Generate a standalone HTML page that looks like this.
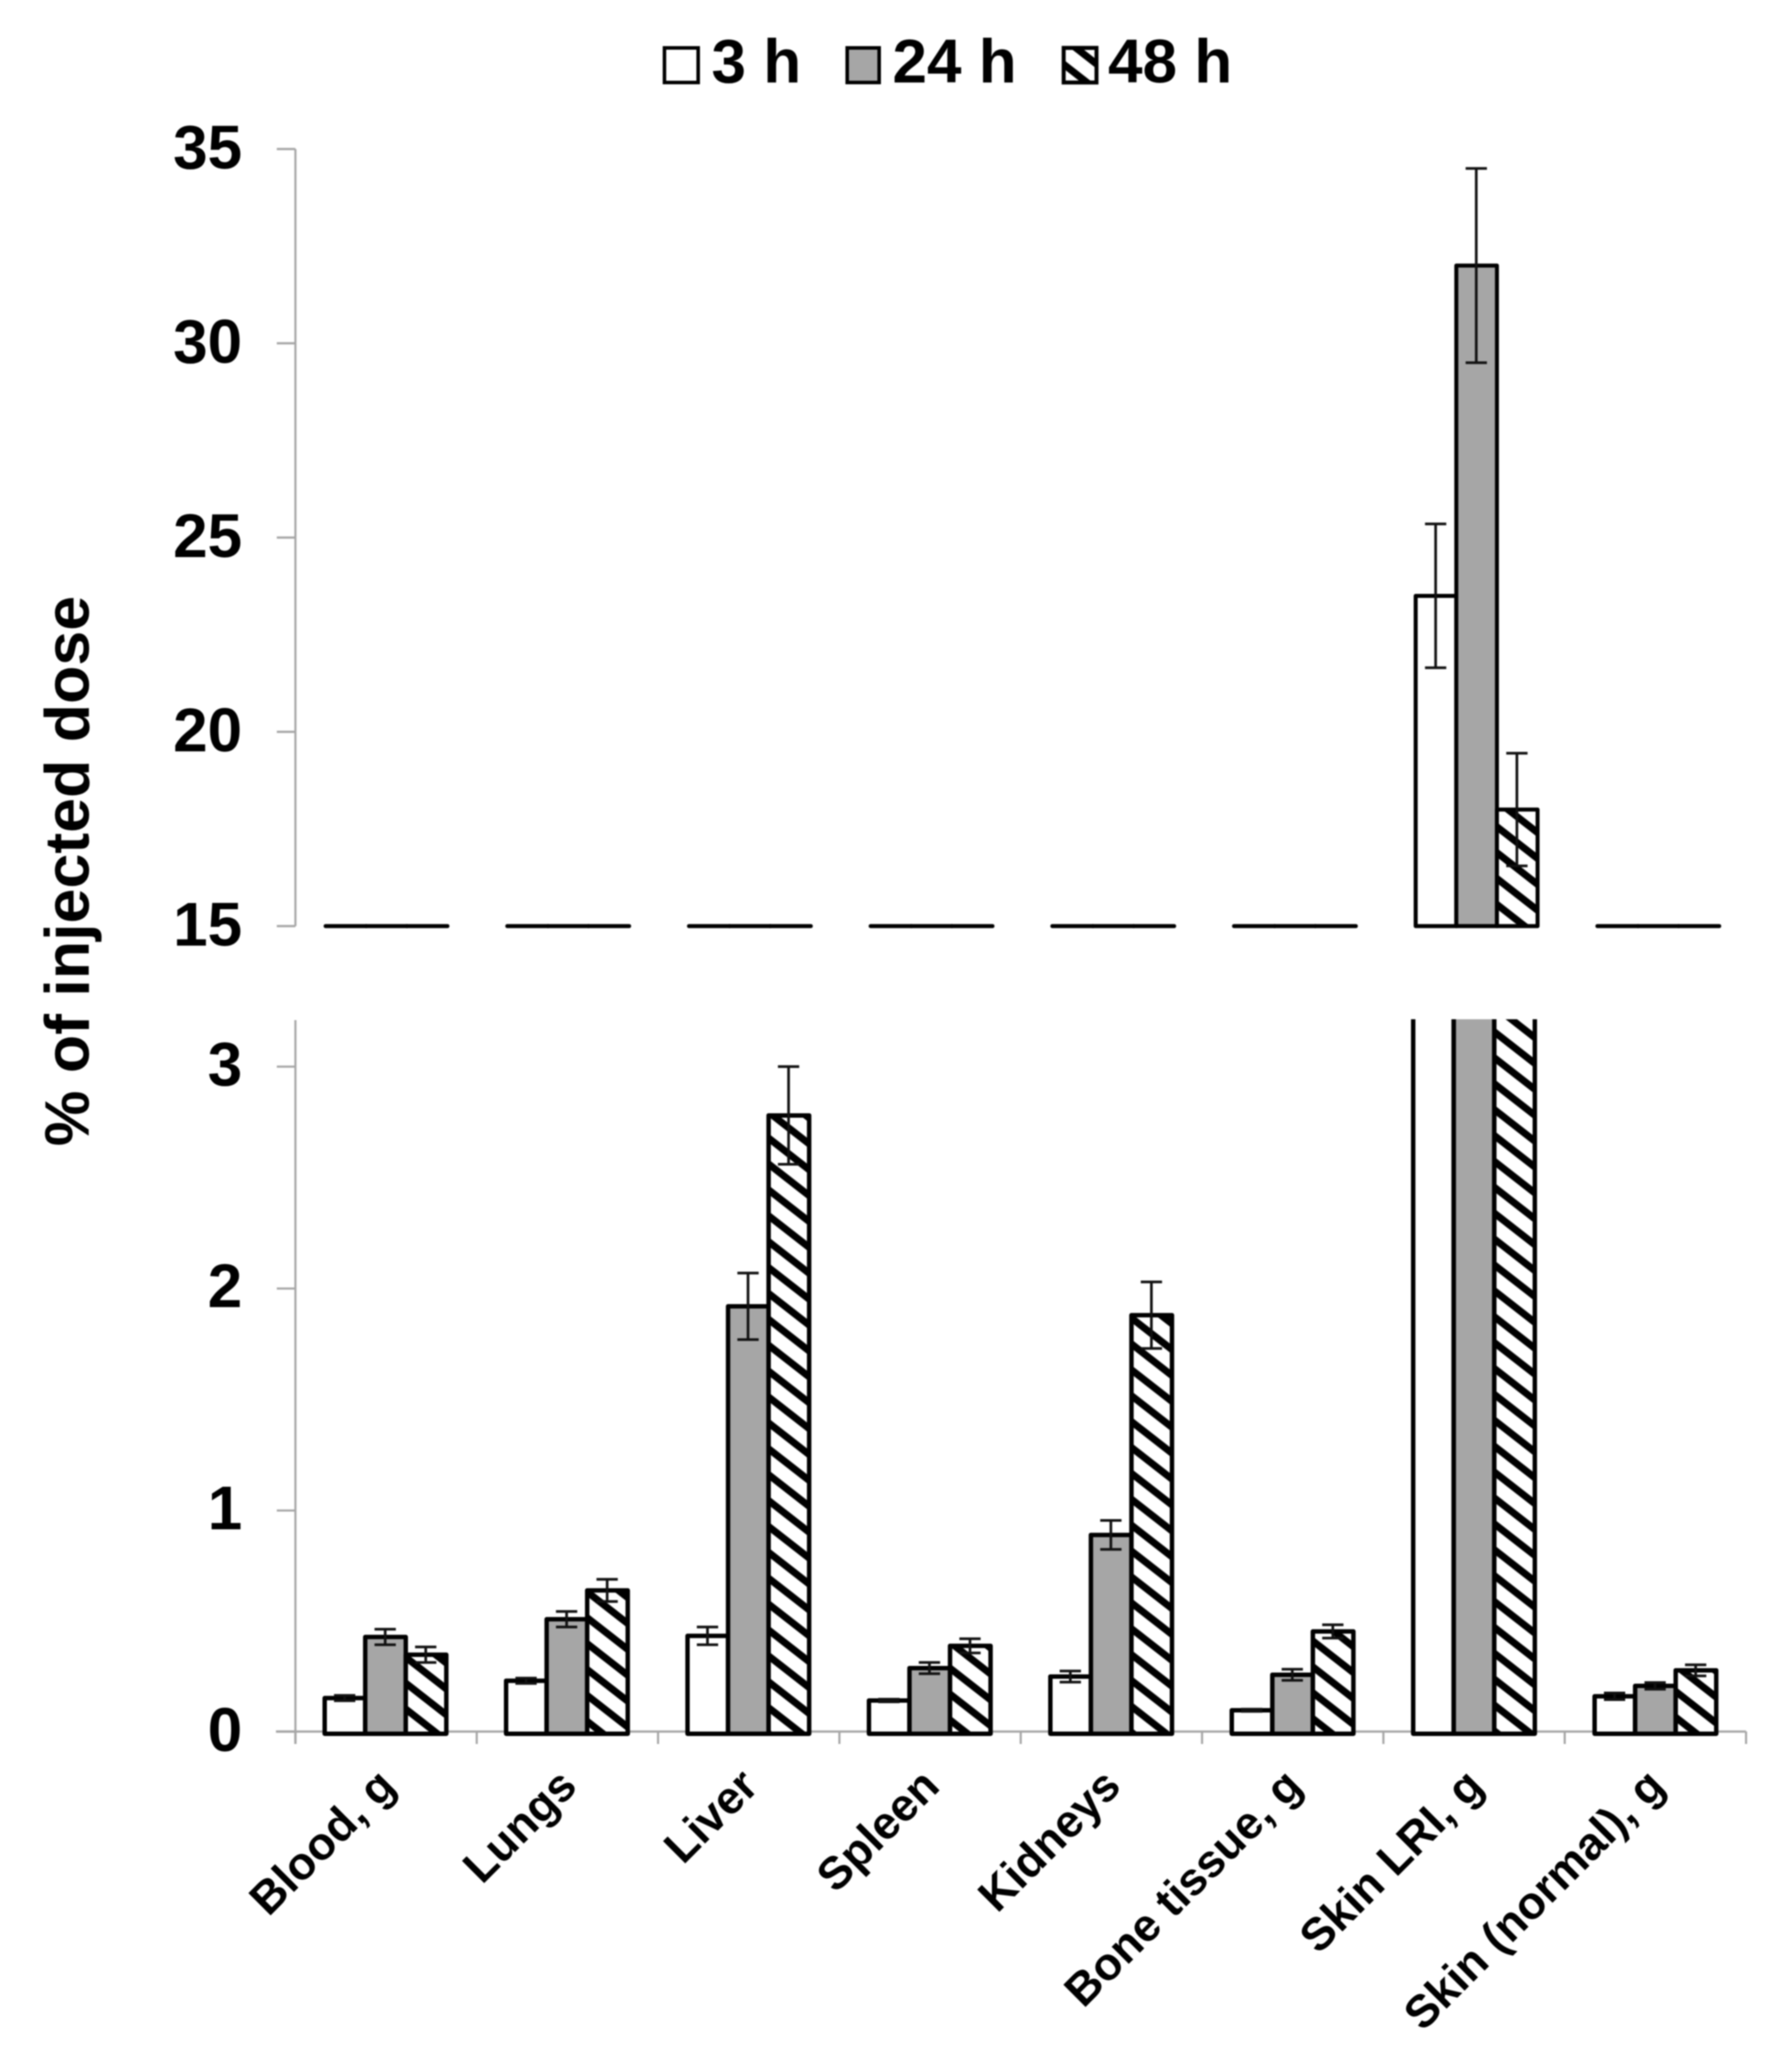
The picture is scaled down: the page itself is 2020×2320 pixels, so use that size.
<!DOCTYPE html>
<html>
<head>
<meta charset="utf-8">
<title>Biodistribution chart</title>
<style>
html,body{margin:0;padding:0;background:#fff;width:2020px;height:2320px;overflow:hidden}
svg{display:block;filter:blur(0.9px)}
text{font-family:"Liberation Sans",Arial,sans-serif;font-weight:bold;fill:#000}
</style>
</head>
<body>
<svg id="chart" xmlns="http://www.w3.org/2000/svg" width="2020" height="2320" viewBox="0 0 2020 2320">
  <defs>
    <pattern id="hatch" patternUnits="userSpaceOnUse" width="23" height="23" patternTransform="rotate(38)">
      <rect width="23" height="23" fill="#fff"/>
      <rect y="13.6" width="23" height="8" fill="#000"/>
    </pattern>
    <pattern id="hatch-legend" patternUnits="userSpaceOnUse" width="23" height="23" patternTransform="rotate(38)">
      <rect width="23" height="23" fill="#fff"/>
      <rect y="4.9" width="23" height="8" fill="#000"/>
    </pattern>
    <clipPath id="lower-clip"><rect x="300" y="1149" width="1700" height="830"/></clipPath>
  </defs>
  <g>
    <rect x="749" y="54" width="38" height="39" fill="#fff" stroke="#000" stroke-width="4"/>
    <text x="802" y="93" font-size="70">3 h</text>
    <rect x="955" y="54" width="36" height="39" fill="#a6a6a6" stroke="#000" stroke-width="4"/>
    <text x="1006" y="93" font-size="70">24 h</text>
    <rect x="1199" y="54" width="37" height="39" fill="url(#hatch-legend)" stroke="#000" stroke-width="4.5"/>
    <text x="1249" y="93" font-size="70">48 h</text>
  </g>
  <text transform="translate(100,982) rotate(-90)" text-anchor="middle" font-size="70.7">% of injected dose</text>
  <g id="axes"></g>
  <g id="upper"></g>
  <g id="lower" clip-path="url(#lower-clip)"></g>
  <g id="cats"></g>
</svg>
<script>
const categories = ["Blood, g","Lungs","Liver","Spleen","Kidneys","Bone tissue, g","Skin LRI, g","Skin (normal), g"];
const seriesNames = ["3h","24h","48h"];
const values3h  = [0.155,0.233,0.435,0.144,0.252,0.10,23.5,0.163];
const values24h = [0.43,0.51,1.92,0.29,0.89,0.26,32,0.21];
const values48h = [0.35,0.64,2.78,0.39,1.88,0.455,18,0.28];
const errors3h  = [0.012,0.012,0.04,0.006,0.025,0.005,1.85,0.015];
const errors24h = [0.035,0.035,0.15,0.025,0.065,0.025,2.5,0.015];
const errors48h = [0.035,0.05,0.22,0.032,0.15,0.03,1.45,0.025];
const upperTicks = [15,20,25,30,35];
const lowerTicks = [0,1,2,3];

const NS = "http://www.w3.org/2000/svg";
const allValues = [values3h, values24h, values48h];
const allErrors = [errors3h, errors24h, errors48h];
const fills = ["#fff", "#a6a6a6", "url(#hatch)"];

function yUpper(v){ return 1044 + (15 - v) * 43.8; }
function yLower(v){ return 1953 - v * 250.2; }
function xTick(i){ return 333 + i * 204.4; }
function xBarUpper(c, s){ return 367 + c * 204.8 + s * 45.8; }
function xBarLower(c, s){ return 366 + c * 204.5 + s * 45.7; }

function make(tag, parent){
  const el = document.createElementNS(NS, tag);
  parent.appendChild(el);
  return el;
}
function line(parent, x1, y1, x2, y2, color, w){
  const l = make("line", parent);
  l.setAttribute("x1", x1);
  l.setAttribute("y1", y1);
  l.setAttribute("x2", x2);
  l.setAttribute("y2", y2);
  l.setAttribute("stroke", color);
  l.setAttribute("stroke-width", w);
  return l;
}
function bar(parent, x, w, top, base, fill, sw){
  const p = make("path", parent);
  p.setAttribute("d", "M" + x + " " + base + "V" + top + "H" + (x + w) + "V" + base + "Z");
  p.setAttribute("fill", fill);
  p.setAttribute("stroke", "#000");
  p.setAttribute("stroke-width", sw);
  p.setAttribute("stroke-linejoin", "round");
  return p;
}
function errorBar(parent, cx, yTop, yBot){
  const g = make("g", parent);
  line(g, cx, yTop, cx, yBot, "#111", 3);
  line(g, cx - 12, yTop, cx + 12, yTop, "#111", 3);
  line(g, cx - 12, yBot, cx + 12, yBot, "#111", 3);
  return g;
}

const axes = document.getElementById("axes");
const AXIS = "#a6a6a6";

const upperAxis = line(axes, 333, yUpper(35), 333, yUpper(15), AXIS, 2.4);


const lowerAxis = line(axes, 333, 1150, 333, 1966, AXIS, 2.4);


const xAxis = line(axes, 311, yLower(0) - 1, xTick(8), yLower(0) - 1, AXIS, 2.4);



upperTicks.forEach(function(t){
  const y = yUpper(t);
  const tk = line(axes, 312, y, 333, y, AXIS, 2.4);
  
  
  const lb = make("text", axes);
  lb.setAttribute("x", 273);
  lb.setAttribute("y", y + 22);
  lb.setAttribute("text-anchor", "end");
  lb.setAttribute("font-size", 70);
  
  
  lb.textContent = String(t);
});
lowerTicks.forEach(function(t){
  const y = yLower(t);
  const tk = line(axes, 312, y - (t === 0 ? 1 : 0), 333, y - (t === 0 ? 1 : 0), AXIS, 2.4);
  
  
  const lb = make("text", axes);
  lb.setAttribute("x", 273);
  lb.setAttribute("y", y + 21);
  lb.setAttribute("text-anchor", "end");
  lb.setAttribute("font-size", 70);
  
  
  lb.textContent = String(t);
});
for (let i = 0; i <= categories.length; i++) {
  const tk = line(axes, xTick(i), yLower(0) - 1, xTick(i), 1966, AXIS, 2.4);
  
  
}

const upper = document.getElementById("upper");
const lower = document.getElementById("lower");
const cats = document.getElementById("cats");

categories.forEach(function(name, c){
  allValues.forEach(function(vals, s){
    const v = vals[c];
    const bu = bar(upper, xBarUpper(c, s), 45.8, yUpper(Math.max(v, 15)), yUpper(15), fills[s], 4.5);
    
    
    const bl = bar(lower, xBarLower(c, s), 45.7, yLower(v), yLower(0) + 1.5, fills[s], 5);
    
    
  });
  allValues.forEach(function(vals, s){
    const v = vals[c];
    const e = allErrors[s][c];
    if (v > 15) {
      const eu = errorBar(upper, xBarUpper(c, s) + 22.5, yUpper(v + e), yUpper(v - e));
      
      
    }
    const el = errorBar(lower, xBarLower(c, s) + 22.5, yLower(v + e), yLower(v - e));
    
    
  });
  const t = make("text", cats);
  const cx = xTick(c) + 102.2 + 13;
  t.setAttribute("transform", "translate(" + cx + ",2016) rotate(-45)");
  t.setAttribute("text-anchor", "end");
  t.setAttribute("font-size", 51.5);
  
  
  t.textContent = name;
});
</script>
</body>
</html>
